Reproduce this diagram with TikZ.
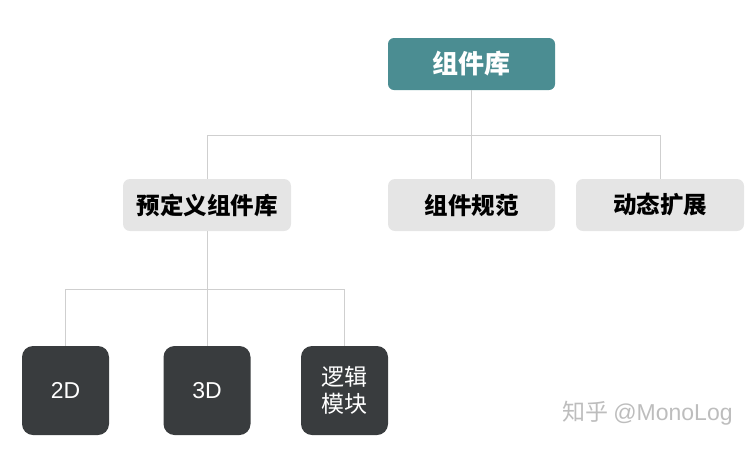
\documentclass[tikz,border=0pt]{standalone}
\usepackage{fontspec}
\setmainfont{Liberation Sans}
\newfontfamily\cjk{Noto Sans CJK SC}

\begin{document}
\begin{tikzpicture}[x=1pt, y=-1pt,
    rootbox/.style={fill=rootColour, rounded corners=6pt, minimum width=167pt, minimum height=52pt, inner sep=0pt, text=white, font={\cjk\bfseries\fontsize{26}{30}\selectfont}},
    midbox/.style={fill=midColour, rounded corners=7pt, minimum width=168pt, minimum height=52pt, inner sep=0pt, text=black, font={\cjk\bfseries\fontsize{23.5}{28}\selectfont}},
    leafbox/.style={fill=leafColour, rounded corners=11pt, minimum width=87pt, minimum height=89pt, inner sep=0pt, text=white, align=center, font={\cjk\fontsize{23}{27}\selectfont}},
    link/.style={draw=lineColour, line width=0.9pt}]
    % Define colours
    \definecolor{rootColour}{HTML}{4B8D92}
    \definecolor{midColour}{HTML}{E5E5E5}
    \definecolor{leafColour}{HTML}{393C3E}
    \definecolor{lineColour}{HTML}{CFCFCF}
    \definecolor{markColour}{HTML}{BDBDBD}

    % Fix canvas
    \useasboundingbox (0,0) rectangle (750,448);

    % Draw top node
    \node[rootbox] (root) at (471.5,64) {组件库};

    % Draw second level
    \node[midbox] (predef) at (207,205) {预定义组件库};
    \node[midbox, minimum width=167pt] (spec) at (471.5,205) {组件规范};
    \node[midbox] (ext) at (660,205) {动态扩展};

    % Draw third level
    \node[leafbox] (twod) at (65.5,390.5) {\fontspec{Liberation Sans}2D};
    \node[leafbox] (threed) at (207,390.5) {\fontspec{Liberation Sans}3D};
    \node[leafbox] (logic) at (344.5,390.5) {逻辑\\模块};

    % Bus points
    \coordinate (busA) at (471.5,135);
    \coordinate (busB) at (207,289);

    % Draw connectors
    \draw[link] (root.south) -- (busA);
    \draw[link] (spec.north) -- (busA);
    \draw[link] (predef.north) |- (busA);
    \draw[link] (ext.north) |- (busA);
    \draw[link] (predef.south) -- (busB);
    \draw[link] (threed.north) -- (busB);
    \draw[link] (twod.north) |- (busB);
    \draw[link] (logic.north) |- (busB);

    % Watermark
    \node[text=markColour, font={\cjk\fontsize{23}{26}\selectfont}, anchor=west, inner sep=0pt] (mark) at (562,413) {知乎 {\fontspec{Liberation Sans}@MonoLog}};
\end{tikzpicture}
\end{document}
